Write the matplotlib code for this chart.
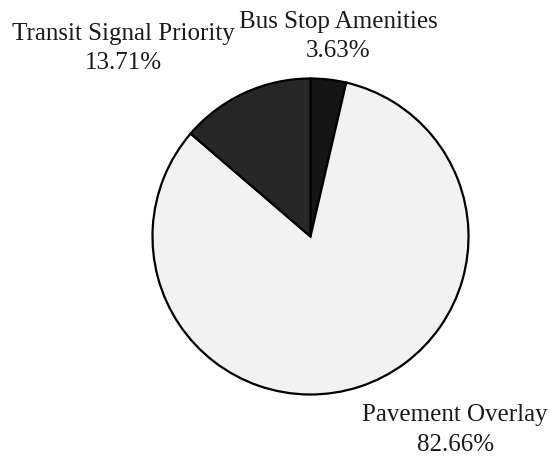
import matplotlib.pyplot as plt

categories = ["Bus Stop Amenities", "Pavement Overlay", "Transit Signal Priority"]
shares = [3.63, 82.66, 13.71]
colors = ["#151515", "#f2f2f2", "#272727"]
# label anchor points, in pie radius units
label_pos = [(0.174, 1.265), (0.915, -1.225), (-1.187, 1.19)]

plt.rcParams["font.family"] = ["Liberation Serif", "DejaVu Serif"]

fig = plt.figure(figsize=(5.56, 4.62), dpi=100)
ax = fig.add_axes([0, 0, 1, 1])

ax.pie(shares, colors=colors, startangle=90, counterclock=False, radius=1.0,
       wedgeprops=dict(edgecolor="black", linewidth=1.6))

for name, val, (x, y) in zip(categories, shares, label_pos):
    ax.text(x, y, f"{name}\n{val:.2f}%", ha="center", va="center",
            fontsize=18, color="#1a1a1a", linespacing=1.45)

# pie centre sits at (310.5, 236.5) px, radius 158 px
ax.set_xlim(-310.5 / 158, (556 - 310.5) / 158)
ax.set_ylim(-(462 - 236.5) / 158, 236.5 / 158)
ax.set_aspect("auto")
ax.axis("off")

fig.savefig("out.png", dpi=100, facecolor="white")
